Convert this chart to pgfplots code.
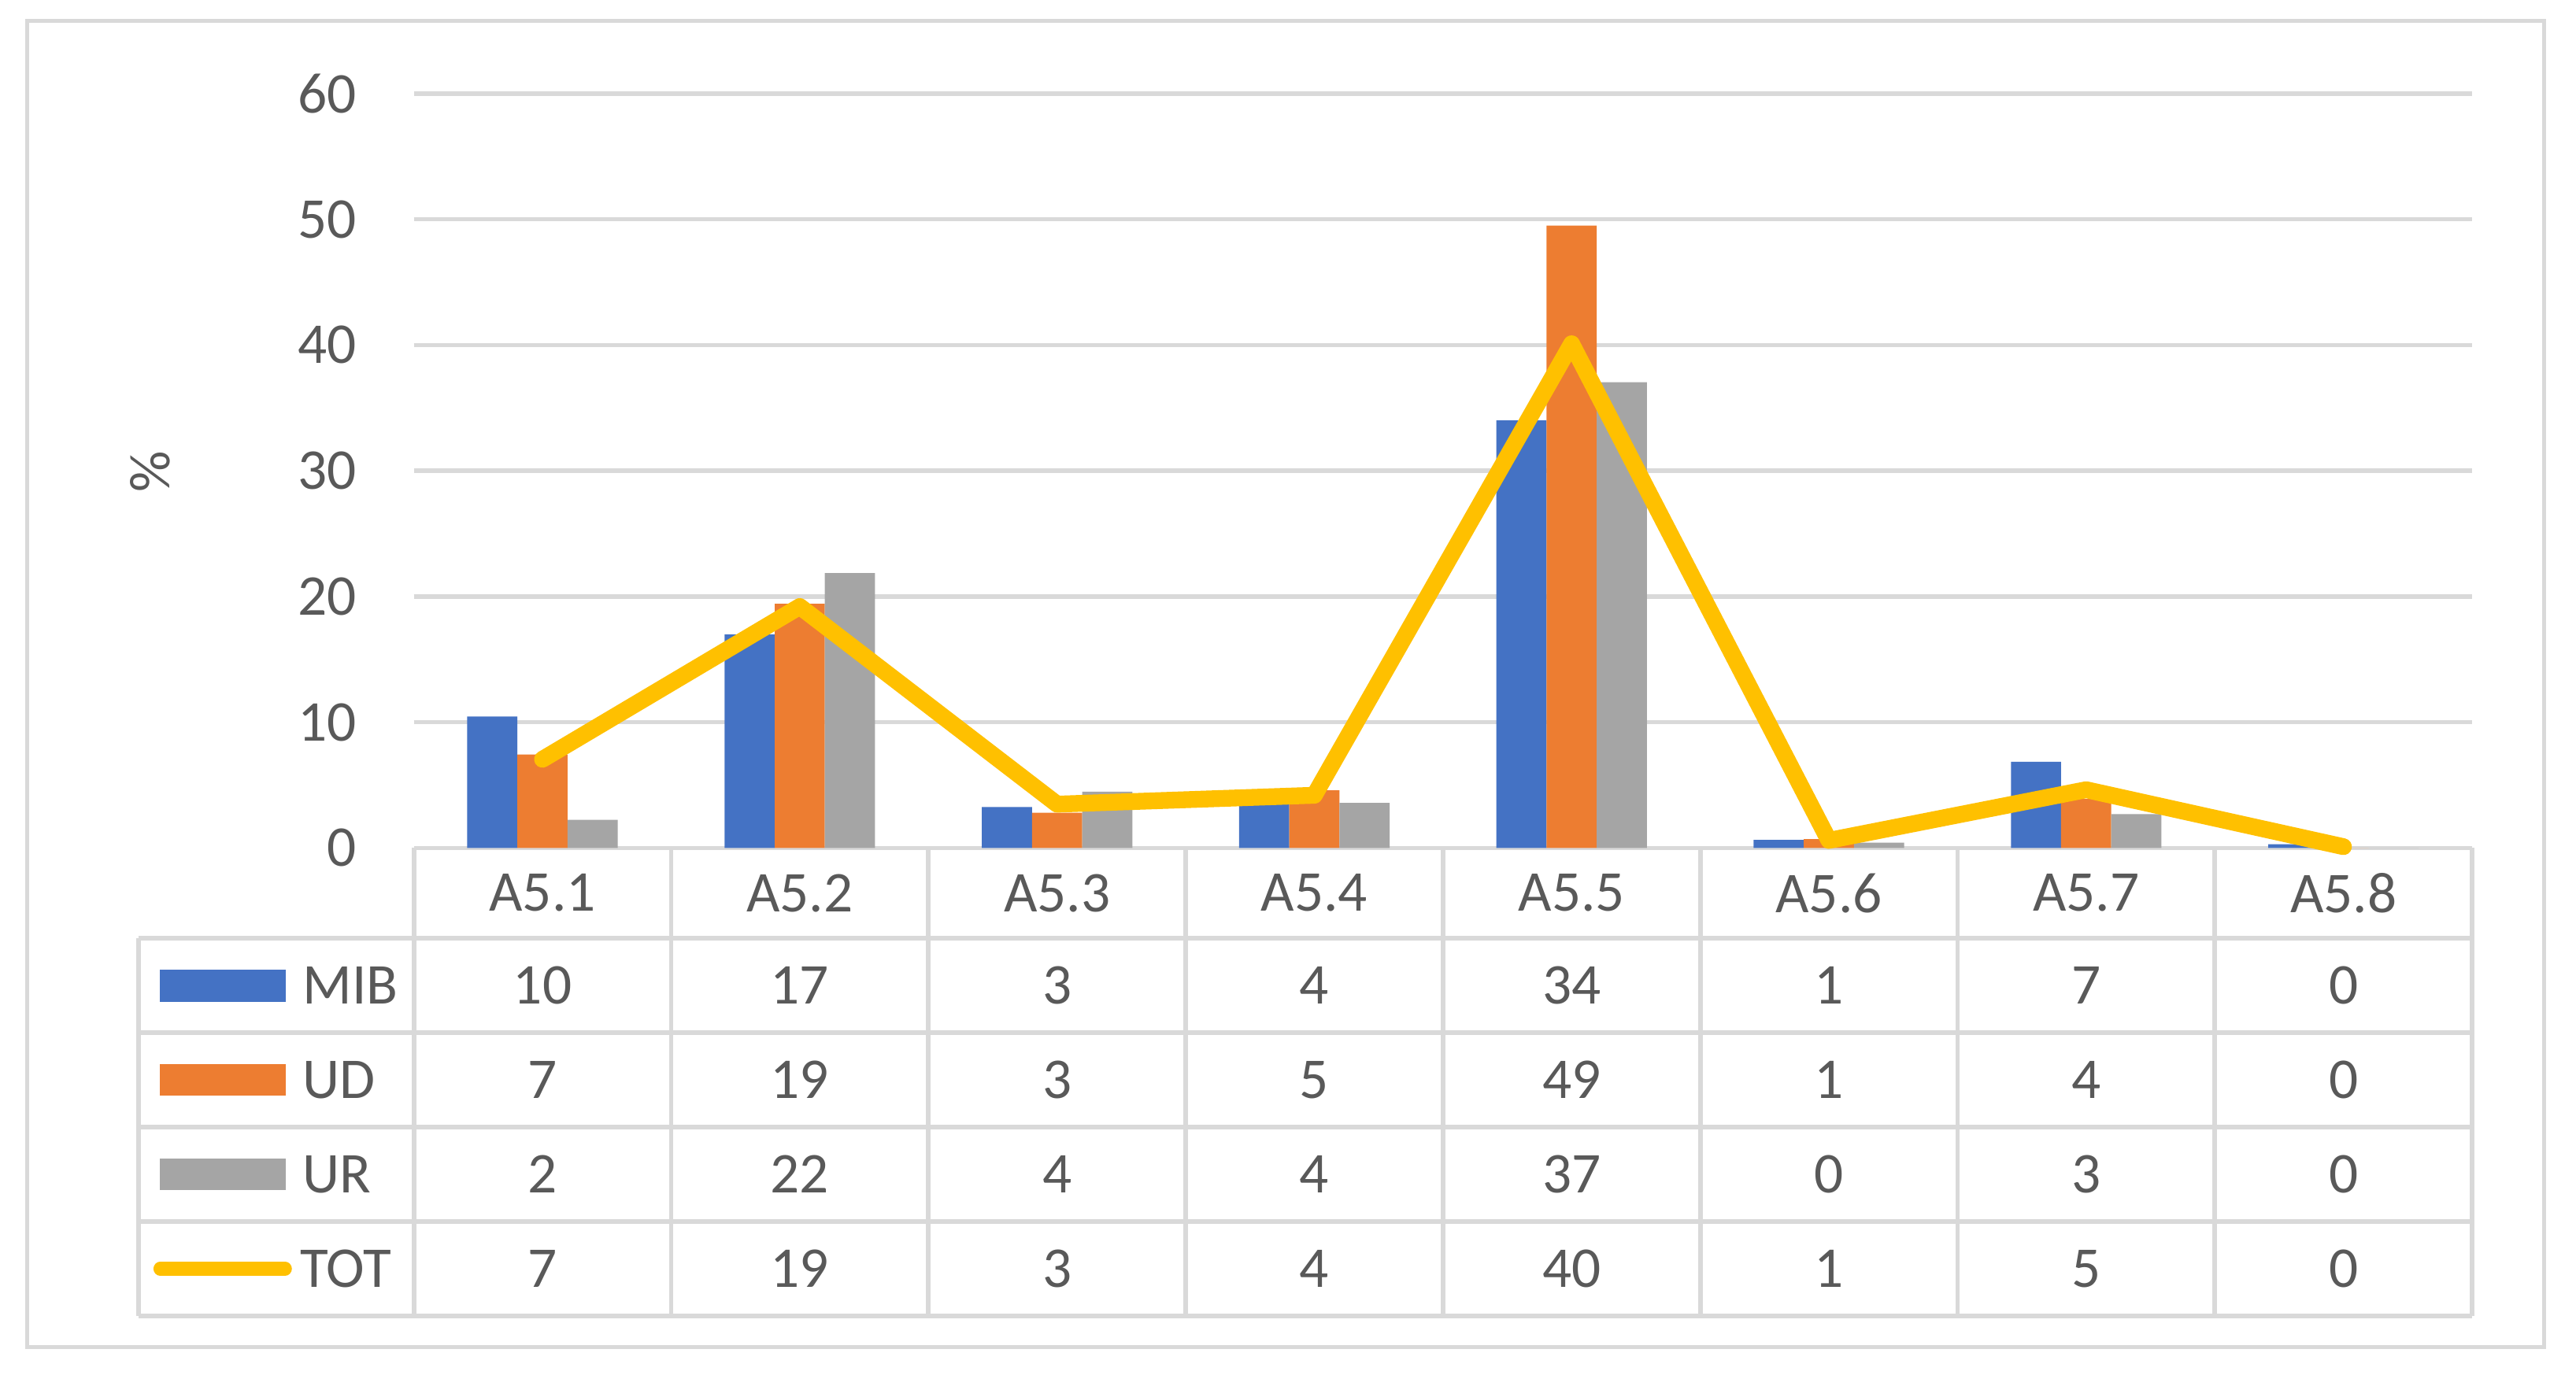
\documentclass[border=0pt]{standalone}
\usepackage{fontspec}
\setmainfont{Carlito}
\usepackage{pgfplots}
\pgfplotsset{compat=1.18}
\definecolor{cMIB}{HTML}{4472C4}
\definecolor{cUD}{HTML}{ED7D31}
\definecolor{cUR}{HTML}{A5A5A5}
\definecolor{cTOT}{HTML}{FFC000}
\definecolor{gridc}{HTML}{D9D9D9}
\definecolor{tc}{HTML}{595959}
\begin{document}
\begin{tikzpicture}[font=\fontsize{11}{13}\selectfont]
\useasboundingbox (-78.9pt,-100.5pt) rectangle (412.2pt,161.7pt);
\fill[white] (-78.9pt,-100.5pt) rectangle (412.2pt,161.7pt);
\draw[gridc, line width=0.75pt] (-73.65pt,-95.25pt) rectangle (406.05pt,157.65pt);
\begin{axis}[at={(0,0)}, anchor=south west, scale only axis,
  width=392.4pt, height=143.85pt,
  xmin=-0.5, xmax=7.5, ymin=0, ymax=60, clip=false,
  axis line style={draw=none}, xtick=\empty, ytick={0,10,...,60},
  major tick length=0pt, ymajorgrids,
  grid style={gridc, line width=0.8pt},
  yticklabel style={text=tc, inner sep=0pt, xshift=-10.8pt},
  /pgf/number format/assume math mode=true]
\addplot[ybar, bar width=0.195, bar shift=-0.195, fill=cMIB, draw=none]
  coordinates {(0,10.45) (1,16.98) (2,3.25) (3,3.55) (4,34.0) (5,0.64) (6,6.86) (7,0.3)};
\addplot[ybar, bar width=0.195, bar shift=0, fill=cUD, draw=none]
  coordinates {(0,7.43) (1,19.42) (2,2.8) (3,4.58) (4,49.5) (5,0.7) (6,3.9) (7,0)};
\addplot[ybar, bar width=0.195, bar shift=0.195, fill=cUR, draw=none]
  coordinates {(0,2.23) (1,21.86) (2,4.48) (3,3.58) (4,37.05) (5,0.42) (6,2.69) (7,0)};
\addplot[cTOT, line width=3.2pt, line join=round, line cap=round, mark=none]
  coordinates {(0,7.05) (1,19.2) (2,3.48) (3,4.19) (4,40.1) (5,0.6) (6,4.63) (7,0.1)};
\end{axis}
\node[rotate=90, text=tc] at (-50.25pt,71.7pt) {\%};
% data table grid
\begin{scope}[gridc, line width=0.85pt]
\foreach \yy in {-17.25,-35.25,-53.25,-71.25,-89.25} {
  \draw (-52.5pt,\yy pt) -- (392.4pt,\yy pt);
}
\foreach \k in {0,...,8} {
  \draw ({\k*49.05pt},0pt) -- ({\k*49.05pt},-89.25pt);
}
\draw (-52.5pt,-17.25pt) -- (-52.5pt,-89.25pt);
\end{scope}
% header
\foreach \c [count=\i from 0] in {A5.1,A5.2,A5.3,A5.4,A5.5,A5.6,A5.7,A5.8} {
  \node[text=tc, inner sep=0pt] at ({(\i+0.5)*49.05pt},-8.6pt) {\c};
}
\foreach \v [count=\i from 0] in {10,17,3,4,34,1,7,0} {
  \node[text=tc, inner sep=0pt] at ({(\i+0.5)*49.05pt},-26.25pt) {\v};
}
\foreach \v [count=\i from 0] in {7,19,3,5,49,1,4,0} {
  \node[text=tc, inner sep=0pt] at ({(\i+0.5)*49.05pt},-44.25pt) {\v};
}
\foreach \v [count=\i from 0] in {2,22,4,4,37,0,3,0} {
  \node[text=tc, inner sep=0pt] at ({(\i+0.5)*49.05pt},-62.25pt) {\v};
}
\foreach \v [count=\i from 0] in {7,19,3,4,40,1,5,0} {
  \node[text=tc, inner sep=0pt] at ({(\i+0.5)*49.05pt},-80.25pt) {\v};
}
% legend keys
\fill[cMIB] (-48.45pt,-29.3pt) rectangle (-24.45pt,-23.2pt);
\fill[cUD] (-48.45pt,-47.3pt) rectangle (-24.45pt,-41.2pt);
\fill[cUR] (-48.45pt,-65.3pt) rectangle (-24.45pt,-59.2pt);
\draw[cTOT, line width=2.6pt, line cap=round] (-48.35pt,-80.25pt) -- (-24.55pt,-80.25pt);
\node[text=tc, anchor=west, inner sep=0pt] at (-21.4pt,-26.25pt) {MIB};
\node[text=tc, anchor=west, inner sep=0pt] at (-21.4pt,-44.25pt) {UD};
\node[text=tc, anchor=west, inner sep=0pt] at (-21.4pt,-62.25pt) {UR};
\node[text=tc, anchor=west, inner sep=0pt] at (-21.9pt,-80.25pt) {TOT};
\end{tikzpicture}
\end{document}
